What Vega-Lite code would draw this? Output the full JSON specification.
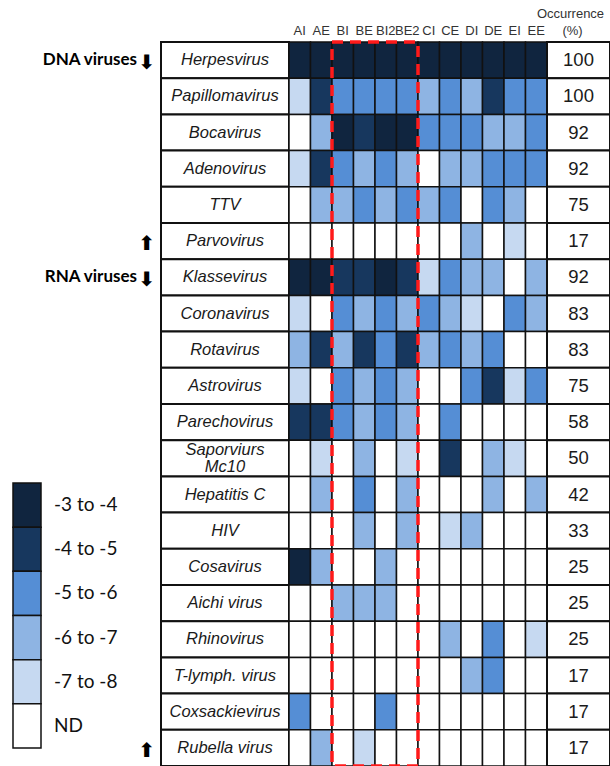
{
  "$schema": "https://vega.github.io/schema/vega-lite/v6.json",
  "width": 610,
  "height": 766,
  "padding": 0,
  "autosize": "none",
  "background": "white",
  "config": {"view": {"stroke": null}},
  "datasets": {
    "viruses": [
      {"virus": "Herpesvirus", "label": "Herpesvirus", "occ": 100},
      {"virus": "Papillomavirus", "label": "Papillomavirus", "occ": 100},
      {"virus": "Bocavirus", "label": "Bocavirus", "occ": 92},
      {"virus": "Adenovirus", "label": "Adenovirus", "occ": 92},
      {"virus": "TTV", "label": "TTV", "occ": 75},
      {"virus": "Parvovirus", "label": "Parvovirus", "occ": 17},
      {"virus": "Klassevirus", "label": "Klassevirus", "occ": 92},
      {"virus": "Coronavirus", "label": "Coronavirus", "occ": 83},
      {"virus": "Rotavirus", "label": "Rotavirus", "occ": 83},
      {"virus": "Astrovirus", "label": "Astrovirus", "occ": 75},
      {"virus": "Parechovirus", "label": "Parechovirus", "occ": 58},
      {"virus": "Saporviurs Mc10", "label": "Saporviurs\nMc10", "occ": 50},
      {"virus": "Hepatitis C", "label": "Hepatitis C", "occ": 42},
      {"virus": "HIV", "label": "HIV", "occ": 33},
      {"virus": "Cosavirus", "label": "Cosavirus", "occ": 25},
      {"virus": "Aichi virus", "label": "Aichi virus", "occ": 25},
      {"virus": "Rhinovirus", "label": "Rhinovirus", "occ": 25},
      {"virus": "T-lymph. virus", "label": "T-lymph. virus", "occ": 17},
      {"virus": "Coxsackievirus", "label": "Coxsackievirus", "occ": 17},
      {"virus": "Rubella virus", "label": "Rubella virus", "occ": 17}
    ],
    "cols": [
      {"col": "AI"}, {"col": "AE"}, {"col": "BI"}, {"col": "BE"}, {"col": "BI2"}, {"col": "BE2"},
      {"col": "CI"}, {"col": "CE"}, {"col": "DI"}, {"col": "DE"}, {"col": "EI"}, {"col": "EE"}
    ],
    "legend": [
      {"level": 1, "label": "-3 to -4"},
      {"level": 2, "label": "-4 to -5"},
      {"level": 3, "label": "-5 to -6"},
      {"level": 4, "label": "-6 to -7"},
      {"level": 5, "label": "-7 to -8"},
      {"level": 0, "label": "ND"}
    ],
    "groups": [
      {"virus": "Herpesvirus", "text": "DNA viruses", "arrow": "\u2b07"},
      {"virus": "Parvovirus", "text": "", "arrow": "\u2b06"},
      {"virus": "Klassevirus", "text": "RNA viruses", "arrow": "\u2b07"},
      {"virus": "Rubella virus", "text": "", "arrow": "\u2b06"}
    ],
    "cells": [
      {"virus":"Herpesvirus","col":"AI","level":1},{"virus":"Herpesvirus","col":"AE","level":1},{"virus":"Herpesvirus","col":"BI","level":1},{"virus":"Herpesvirus","col":"BE","level":1},{"virus":"Herpesvirus","col":"BI2","level":1},{"virus":"Herpesvirus","col":"BE2","level":1},{"virus":"Herpesvirus","col":"CI","level":1},{"virus":"Herpesvirus","col":"CE","level":1},{"virus":"Herpesvirus","col":"DI","level":1},{"virus":"Herpesvirus","col":"DE","level":1},{"virus":"Herpesvirus","col":"EI","level":1},{"virus":"Herpesvirus","col":"EE","level":1},
      {"virus":"Papillomavirus","col":"AI","level":5},{"virus":"Papillomavirus","col":"AE","level":2},{"virus":"Papillomavirus","col":"BI","level":3},{"virus":"Papillomavirus","col":"BE","level":3},{"virus":"Papillomavirus","col":"BI2","level":3},{"virus":"Papillomavirus","col":"BE2","level":3},{"virus":"Papillomavirus","col":"CI","level":4},{"virus":"Papillomavirus","col":"CE","level":3},{"virus":"Papillomavirus","col":"DI","level":4},{"virus":"Papillomavirus","col":"DE","level":2},{"virus":"Papillomavirus","col":"EI","level":3},{"virus":"Papillomavirus","col":"EE","level":3},
      {"virus":"Bocavirus","col":"AI","level":0},{"virus":"Bocavirus","col":"AE","level":4},{"virus":"Bocavirus","col":"BI","level":1},{"virus":"Bocavirus","col":"BE","level":2},{"virus":"Bocavirus","col":"BI2","level":1},{"virus":"Bocavirus","col":"BE2","level":1},{"virus":"Bocavirus","col":"CI","level":3},{"virus":"Bocavirus","col":"CE","level":3},{"virus":"Bocavirus","col":"DI","level":3},{"virus":"Bocavirus","col":"DE","level":4},{"virus":"Bocavirus","col":"EI","level":4},{"virus":"Bocavirus","col":"EE","level":3},
      {"virus":"Adenovirus","col":"AI","level":5},{"virus":"Adenovirus","col":"AE","level":2},{"virus":"Adenovirus","col":"BI","level":3},{"virus":"Adenovirus","col":"BE","level":4},{"virus":"Adenovirus","col":"BI2","level":3},{"virus":"Adenovirus","col":"BE2","level":4},{"virus":"Adenovirus","col":"CI","level":0},{"virus":"Adenovirus","col":"CE","level":4},{"virus":"Adenovirus","col":"DI","level":4},{"virus":"Adenovirus","col":"DE","level":3},{"virus":"Adenovirus","col":"EI","level":3},{"virus":"Adenovirus","col":"EE","level":3},
      {"virus":"TTV","col":"AI","level":0},{"virus":"TTV","col":"AE","level":4},{"virus":"TTV","col":"BI","level":4},{"virus":"TTV","col":"BE","level":3},{"virus":"TTV","col":"BI2","level":4},{"virus":"TTV","col":"BE2","level":3},{"virus":"TTV","col":"CI","level":4},{"virus":"TTV","col":"CE","level":3},{"virus":"TTV","col":"DI","level":0},{"virus":"TTV","col":"DE","level":3},{"virus":"TTV","col":"EI","level":4},{"virus":"TTV","col":"EE","level":0},
      {"virus":"Parvovirus","col":"AI","level":0},{"virus":"Parvovirus","col":"AE","level":0},{"virus":"Parvovirus","col":"BI","level":0},{"virus":"Parvovirus","col":"BE","level":0},{"virus":"Parvovirus","col":"BI2","level":0},{"virus":"Parvovirus","col":"BE2","level":0},{"virus":"Parvovirus","col":"CI","level":0},{"virus":"Parvovirus","col":"CE","level":0},{"virus":"Parvovirus","col":"DI","level":4},{"virus":"Parvovirus","col":"DE","level":0},{"virus":"Parvovirus","col":"EI","level":5},{"virus":"Parvovirus","col":"EE","level":0},
      {"virus":"Klassevirus","col":"AI","level":1},{"virus":"Klassevirus","col":"AE","level":1},{"virus":"Klassevirus","col":"BI","level":2},{"virus":"Klassevirus","col":"BE","level":2},{"virus":"Klassevirus","col":"BI2","level":1},{"virus":"Klassevirus","col":"BE2","level":2},{"virus":"Klassevirus","col":"CI","level":5},{"virus":"Klassevirus","col":"CE","level":3},{"virus":"Klassevirus","col":"DI","level":4},{"virus":"Klassevirus","col":"DE","level":4},{"virus":"Klassevirus","col":"EI","level":0},{"virus":"Klassevirus","col":"EE","level":4},
      {"virus":"Coronavirus","col":"AI","level":5},{"virus":"Coronavirus","col":"AE","level":0},{"virus":"Coronavirus","col":"BI","level":3},{"virus":"Coronavirus","col":"BE","level":4},{"virus":"Coronavirus","col":"BI2","level":3},{"virus":"Coronavirus","col":"BE2","level":4},{"virus":"Coronavirus","col":"CI","level":3},{"virus":"Coronavirus","col":"CE","level":4},{"virus":"Coronavirus","col":"DI","level":5},{"virus":"Coronavirus","col":"DE","level":0},{"virus":"Coronavirus","col":"EI","level":3},{"virus":"Coronavirus","col":"EE","level":4},
      {"virus":"Rotavirus","col":"AI","level":4},{"virus":"Rotavirus","col":"AE","level":2},{"virus":"Rotavirus","col":"BI","level":4},{"virus":"Rotavirus","col":"BE","level":2},{"virus":"Rotavirus","col":"BI2","level":3},{"virus":"Rotavirus","col":"BE2","level":2},{"virus":"Rotavirus","col":"CI","level":4},{"virus":"Rotavirus","col":"CE","level":3},{"virus":"Rotavirus","col":"DI","level":4},{"virus":"Rotavirus","col":"DE","level":3},{"virus":"Rotavirus","col":"EI","level":0},{"virus":"Rotavirus","col":"EE","level":0},
      {"virus":"Astrovirus","col":"AI","level":5},{"virus":"Astrovirus","col":"AE","level":0},{"virus":"Astrovirus","col":"BI","level":3},{"virus":"Astrovirus","col":"BE","level":4},{"virus":"Astrovirus","col":"BI2","level":3},{"virus":"Astrovirus","col":"BE2","level":4},{"virus":"Astrovirus","col":"CI","level":0},{"virus":"Astrovirus","col":"CE","level":0},{"virus":"Astrovirus","col":"DI","level":3},{"virus":"Astrovirus","col":"DE","level":2},{"virus":"Astrovirus","col":"EI","level":5},{"virus":"Astrovirus","col":"EE","level":3},
      {"virus":"Parechovirus","col":"AI","level":2},{"virus":"Parechovirus","col":"AE","level":2},{"virus":"Parechovirus","col":"BI","level":3},{"virus":"Parechovirus","col":"BE","level":4},{"virus":"Parechovirus","col":"BI2","level":3},{"virus":"Parechovirus","col":"BE2","level":4},{"virus":"Parechovirus","col":"CI","level":0},{"virus":"Parechovirus","col":"CE","level":3},{"virus":"Parechovirus","col":"DI","level":0},{"virus":"Parechovirus","col":"DE","level":0},{"virus":"Parechovirus","col":"EI","level":0},{"virus":"Parechovirus","col":"EE","level":0},
      {"virus":"Saporviurs Mc10","col":"AI","level":0},{"virus":"Saporviurs Mc10","col":"AE","level":5},{"virus":"Saporviurs Mc10","col":"BI","level":0},{"virus":"Saporviurs Mc10","col":"BE","level":4},{"virus":"Saporviurs Mc10","col":"BI2","level":0},{"virus":"Saporviurs Mc10","col":"BE2","level":5},{"virus":"Saporviurs Mc10","col":"CI","level":0},{"virus":"Saporviurs Mc10","col":"CE","level":2},{"virus":"Saporviurs Mc10","col":"DI","level":0},{"virus":"Saporviurs Mc10","col":"DE","level":4},{"virus":"Saporviurs Mc10","col":"EI","level":5},{"virus":"Saporviurs Mc10","col":"EE","level":0},
      {"virus":"Hepatitis C","col":"AI","level":0},{"virus":"Hepatitis C","col":"AE","level":4},{"virus":"Hepatitis C","col":"BI","level":0},{"virus":"Hepatitis C","col":"BE","level":3},{"virus":"Hepatitis C","col":"BI2","level":0},{"virus":"Hepatitis C","col":"BE2","level":4},{"virus":"Hepatitis C","col":"CI","level":0},{"virus":"Hepatitis C","col":"CE","level":0},{"virus":"Hepatitis C","col":"DI","level":0},{"virus":"Hepatitis C","col":"DE","level":4},{"virus":"Hepatitis C","col":"EI","level":0},{"virus":"Hepatitis C","col":"EE","level":4},
      {"virus":"HIV","col":"AI","level":0},{"virus":"HIV","col":"AE","level":0},{"virus":"HIV","col":"BI","level":0},{"virus":"HIV","col":"BE","level":4},{"virus":"HIV","col":"BI2","level":0},{"virus":"HIV","col":"BE2","level":4},{"virus":"HIV","col":"CI","level":0},{"virus":"HIV","col":"CE","level":5},{"virus":"HIV","col":"DI","level":4},{"virus":"HIV","col":"DE","level":0},{"virus":"HIV","col":"EI","level":0},{"virus":"HIV","col":"EE","level":0},
      {"virus":"Cosavirus","col":"AI","level":1},{"virus":"Cosavirus","col":"AE","level":4},{"virus":"Cosavirus","col":"BI","level":0},{"virus":"Cosavirus","col":"BE","level":0},{"virus":"Cosavirus","col":"BI2","level":4},{"virus":"Cosavirus","col":"BE2","level":0},{"virus":"Cosavirus","col":"CI","level":0},{"virus":"Cosavirus","col":"CE","level":0},{"virus":"Cosavirus","col":"DI","level":0},{"virus":"Cosavirus","col":"DE","level":0},{"virus":"Cosavirus","col":"EI","level":0},{"virus":"Cosavirus","col":"EE","level":0},
      {"virus":"Aichi virus","col":"AI","level":0},{"virus":"Aichi virus","col":"AE","level":0},{"virus":"Aichi virus","col":"BI","level":4},{"virus":"Aichi virus","col":"BE","level":4},{"virus":"Aichi virus","col":"BI2","level":4},{"virus":"Aichi virus","col":"BE2","level":0},{"virus":"Aichi virus","col":"CI","level":0},{"virus":"Aichi virus","col":"CE","level":0},{"virus":"Aichi virus","col":"DI","level":0},{"virus":"Aichi virus","col":"DE","level":0},{"virus":"Aichi virus","col":"EI","level":0},{"virus":"Aichi virus","col":"EE","level":0},
      {"virus":"Rhinovirus","col":"AI","level":0},{"virus":"Rhinovirus","col":"AE","level":0},{"virus":"Rhinovirus","col":"BI","level":0},{"virus":"Rhinovirus","col":"BE","level":0},{"virus":"Rhinovirus","col":"BI2","level":0},{"virus":"Rhinovirus","col":"BE2","level":0},{"virus":"Rhinovirus","col":"CI","level":0},{"virus":"Rhinovirus","col":"CE","level":4},{"virus":"Rhinovirus","col":"DI","level":0},{"virus":"Rhinovirus","col":"DE","level":3},{"virus":"Rhinovirus","col":"EI","level":0},{"virus":"Rhinovirus","col":"EE","level":5},
      {"virus":"T-lymph. virus","col":"AI","level":0},{"virus":"T-lymph. virus","col":"AE","level":0},{"virus":"T-lymph. virus","col":"BI","level":0},{"virus":"T-lymph. virus","col":"BE","level":0},{"virus":"T-lymph. virus","col":"BI2","level":0},{"virus":"T-lymph. virus","col":"BE2","level":0},{"virus":"T-lymph. virus","col":"CI","level":0},{"virus":"T-lymph. virus","col":"CE","level":0},{"virus":"T-lymph. virus","col":"DI","level":4},{"virus":"T-lymph. virus","col":"DE","level":3},{"virus":"T-lymph. virus","col":"EI","level":0},{"virus":"T-lymph. virus","col":"EE","level":0},
      {"virus":"Coxsackievirus","col":"AI","level":3},{"virus":"Coxsackievirus","col":"AE","level":0},{"virus":"Coxsackievirus","col":"BI","level":0},{"virus":"Coxsackievirus","col":"BE","level":0},{"virus":"Coxsackievirus","col":"BI2","level":3},{"virus":"Coxsackievirus","col":"BE2","level":0},{"virus":"Coxsackievirus","col":"CI","level":0},{"virus":"Coxsackievirus","col":"CE","level":0},{"virus":"Coxsackievirus","col":"DI","level":0},{"virus":"Coxsackievirus","col":"DE","level":0},{"virus":"Coxsackievirus","col":"EI","level":0},{"virus":"Coxsackievirus","col":"EE","level":0},
      {"virus":"Rubella virus","col":"AI","level":0},{"virus":"Rubella virus","col":"AE","level":4},{"virus":"Rubella virus","col":"BI","level":0},{"virus":"Rubella virus","col":"BE","level":5},{"virus":"Rubella virus","col":"BI2","level":0},{"virus":"Rubella virus","col":"BE2","level":0},{"virus":"Rubella virus","col":"CI","level":0},{"virus":"Rubella virus","col":"CE","level":0},{"virus":"Rubella virus","col":"DI","level":0},{"virus":"Rubella virus","col":"DE","level":0},{"virus":"Rubella virus","col":"EI","level":0},{"virus":"Rubella virus","col":"EE","level":0}
    ]
  },
  "resolve": {"scale": {"x": "independent", "y": "independent"}},
  "layer": [
    {
      "data": {"name": "legend"},
      "encoding": {
        "x": {"datum": "leg", "type": "nominal", "axis": null, "scale": {"domain": ["leg"], "range": [13, 41], "paddingInner": 0, "paddingOuter": 0}},
        "y": {"field": "level", "type": "ordinal", "axis": null, "scale": {"domain": [1, 2, 3, 4, 5, 0], "range": [483, 748], "paddingInner": 0, "paddingOuter": 0}}
      },
      "layer": [
        {
          "mark": {"type": "rect", "stroke": "#111111", "strokeWidth": 1.5},
          "encoding": {
            "fill": {"field": "level", "type": "ordinal", "legend": null, "scale": {"domain": [1, 2, 3, 4, 5, 0], "range": ["#10253F", "#17375E", "#558ED5", "#8EB4E3", "#C6D9F1", "#FFFFFF"]}}
          }
        },
        {
          "mark": {"type": "text", "align": "left", "baseline": "middle", "dx": 27, "font": "Lato", "fontSize": 19, "color": "#111111"},
          "encoding": {"text": {"field": "label"}}
        }
      ]
    },
    {
      "data": {"name": "groups"},
      "encoding": {
        "x": {"datum": "g", "type": "nominal", "axis": null, "scale": {"domain": ["g"], "range": [154, 160], "paddingInner": 0, "paddingOuter": 0}},
        "y": {"field": "virus", "type": "nominal", "axis": null, "scale": {"domain": ["Herpesvirus","Papillomavirus","Bocavirus","Adenovirus","TTV","Parvovirus","Klassevirus","Coronavirus","Rotavirus","Astrovirus","Parechovirus","Saporviurs Mc10","Hepatitis C","HIV","Cosavirus","Aichi virus","Rhinovirus","T-lymph. virus","Coxsackievirus","Rubella virus"], "range": [42, 766], "paddingInner": 0, "paddingOuter": 0}}
      },
      "layer": [
        {
          "mark": {"type": "text", "align": "right", "baseline": "middle", "dx": -20, "dy": 0, "font": "Lato", "fontWeight": "bold", "fontSize": 17, "color": "#000000"},
          "encoding": {"text": {"field": "text"}}
        },
        {
          "mark": {"type": "text", "align": "right", "baseline": "middle", "dx": -2, "dy": 3, "font": "DejaVu Sans", "fontWeight": "bold", "fontSize": 20, "color": "#000000"},
          "encoding": {"text": {"field": "arrow"}}
        }
      ]
    },
    {
      "data": {"name": "viruses"},
      "encoding": {
        "x": {"datum": "name", "type": "nominal", "axis": null, "scale": {"domain": ["name"], "range": [161, 289], "paddingInner": 0, "paddingOuter": 0}},
        "y": {"field": "virus", "type": "nominal", "axis": null, "scale": {"domain": ["Herpesvirus","Papillomavirus","Bocavirus","Adenovirus","TTV","Parvovirus","Klassevirus","Coronavirus","Rotavirus","Astrovirus","Parechovirus","Saporviurs Mc10","Hepatitis C","HIV","Cosavirus","Aichi virus","Rhinovirus","T-lymph. virus","Coxsackievirus","Rubella virus"], "range": [42, 766], "paddingInner": 0, "paddingOuter": 0}}
      },
      "layer": [
        {"mark": {"type": "rect", "fill": "white", "stroke": "#111111", "strokeWidth": 2}},
        {
          "mark": {"type": "text", "align": "center", "baseline": "middle", "dy": {"expr": "indexof(datum.label, '\\n') >= 0 ? -8 : 0"}, "font": "Liberation Sans", "fontStyle": "italic", "fontSize": 16.5, "color": "#1a1a1a", "lineBreak": "\n", "lineHeight": 17},
          "encoding": {"text": {"field": "label"}}
        }
      ]
    },
    {
      "encoding": {
        "y": {"field": "virus", "type": "nominal", "axis": null, "scale": {"domain": ["Herpesvirus","Papillomavirus","Bocavirus","Adenovirus","TTV","Parvovirus","Klassevirus","Coronavirus","Rotavirus","Astrovirus","Parechovirus","Saporviurs Mc10","Hepatitis C","HIV","Cosavirus","Aichi virus","Rhinovirus","T-lymph. virus","Coxsackievirus","Rubella virus"], "range": [42, 766], "paddingInner": 0, "paddingOuter": 0}}
      },
      "layer": [
        {
          "data": {"name": "cells"},
          "mark": {"type": "rect", "stroke": "#111111", "strokeWidth": 1.5},
          "encoding": {
            "x": {"field": "col", "type": "nominal", "axis": null, "scale": {"domain": ["AI","AE","BI","BE","BI2","BE2","CI","CE","DI","DE","EI","EE"], "range": [289, 547], "paddingInner": 0, "paddingOuter": 0}},
            "fill": {"field": "level", "type": "ordinal", "legend": null, "scale": {"domain": [1, 2, 3, 4, 5, 0], "range": ["#10253F", "#17375E", "#558ED5", "#8EB4E3", "#C6D9F1", "#FFFFFF"]}}
          }
        },
        {
          "data": {"name": "cols"},
          "mark": {"type": "text", "align": "center", "baseline": "middle", "yOffset": -29, "font": "Liberation Sans", "fontSize": 13, "color": "#333333"},
          "encoding": {
            "x": {"field": "col", "type": "nominal", "axis": null},
            "y": {"datum": "Herpesvirus", "type": "nominal"},
            "text": {"field": "col"}
          }
        },
        {
          "data": {"values": [{"box": "samples B"}]},
          "mark": {"type": "rect", "fill": null, "fillOpacity": 0, "stroke": "#FF1A1A", "strokeWidth": 3.5, "strokeDash": [11, 7]},
          "encoding": {
            "x": {"datum": "BI", "type": "nominal", "bandPosition": 0},
            "x2": {"datum": "BE2", "bandPosition": 1},
            "y": {"datum": "Herpesvirus", "type": "nominal", "bandPosition": 0},
            "y2": {"datum": "Rubella virus", "bandPosition": 1}
          }
        }
      ]
    },
    {
      "data": {"name": "viruses"},
      "encoding": {
        "x": {"datum": "occ", "type": "nominal", "axis": null, "scale": {"domain": ["occ"], "range": [547, 610], "paddingInner": 0, "paddingOuter": 0}},
        "y": {"field": "virus", "type": "nominal", "axis": null, "scale": {"domain": ["Herpesvirus","Papillomavirus","Bocavirus","Adenovirus","TTV","Parvovirus","Klassevirus","Coronavirus","Rotavirus","Astrovirus","Parechovirus","Saporviurs Mc10","Hepatitis C","HIV","Cosavirus","Aichi virus","Rhinovirus","T-lymph. virus","Coxsackievirus","Rubella virus"], "range": [42, 766], "paddingInner": 0, "paddingOuter": 0}}
      },
      "layer": [
        {"mark": {"type": "rect", "fill": "white", "stroke": "#111111", "strokeWidth": 2}},
        {
          "mark": {"type": "text", "align": "center", "baseline": "middle", "font": "Liberation Sans", "fontSize": 18.5, "color": "#1a1a1a"},
          "encoding": {"text": {"field": "occ"}}
        },
        {
          "data": {"values": [{"line": "Occurrence", "virus": "Herpesvirus"}]},
          "mark": {"type": "text", "align": "center", "baseline": "middle", "yOffset": -46, "dx": -8, "font": "Liberation Sans", "fontSize": 13, "color": "#333333"},
          "encoding": {"text": {"field": "line"}}
        },
        {
          "data": {"values": [{"line": "(%)", "virus": "Herpesvirus"}]},
          "mark": {"type": "text", "align": "center", "baseline": "middle", "yOffset": -29, "dx": -6, "font": "Liberation Sans", "fontSize": 13, "color": "#333333"},
          "encoding": {"text": {"field": "line"}}
        }
      ]
    }
  ]
}
